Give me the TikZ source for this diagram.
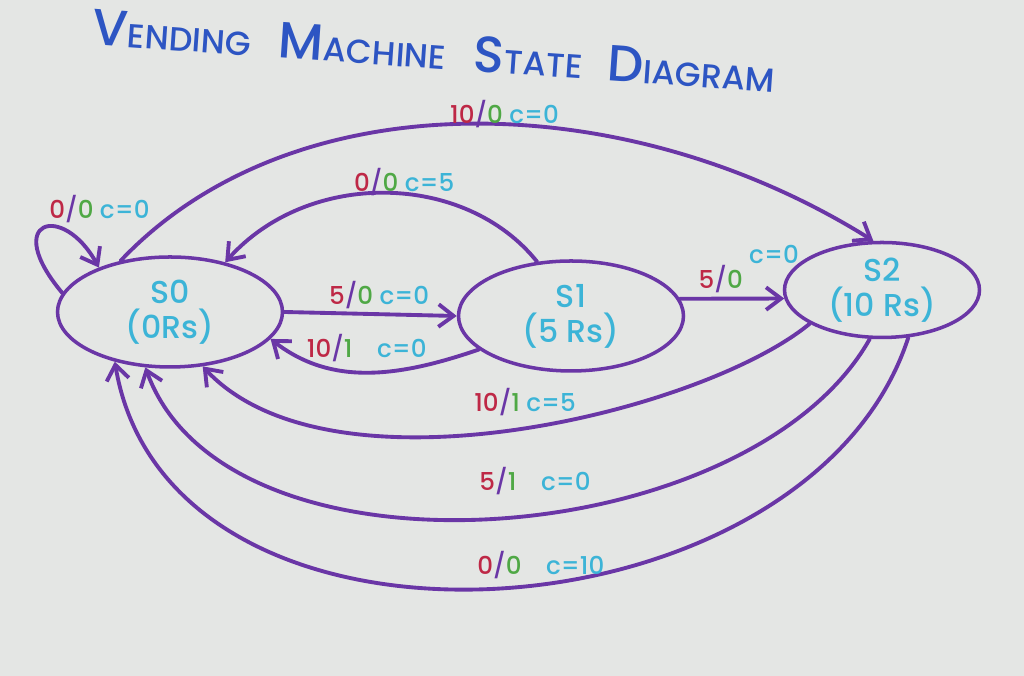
\documentclass[tikz,border=0pt]{standalone}
\usepackage{fontspec}
\setmainfont{Poppins Medium}
\usepackage{xcolor}
\usepackage{tikz}
\usetikzlibrary{shapes.geometric, arrows.meta, positioning}
\definecolor{paper}{HTML}{E4E6E4}
\definecolor{markerpurple}{HTML}{6A36A6}
\definecolor{markerred}{HTML}{BE2846}
\definecolor{markergreen}{HTML}{4FA845}
\definecolor{markercyan}{HTML}{3CB4D7}
\definecolor{markerblue}{HTML}{2D55C3}

\newcommand{\trans}[4][\ ]{\textcolor{markerred}{#2}\textcolor{markerpurple}{/}\textcolor{markergreen}{#3}#1\textcolor{markercyan}{c=#4}}
\newcommand{\capword}[2]{{\fontsize{29}{32}\selectfont #1}{\fontsize{19}{21}\selectfont #2}}

\begin{document}
\begin{tikzpicture}[
    state/.style={ellipse, draw=markerpurple, line width=2pt, minimum width=4.5cm,
                  minimum height=2.2cm, inner sep=0pt, text=markercyan,
                  font=\fontsize{18}{20}\selectfont, align=center},
    title/.style={text=markerblue, inner sep=0pt},
    lbl/.style={font=\fontsize{14}{16}\selectfont, inner sep=2pt},
    arrow/.style={-{Straight Barb[length=3mm, width=4.5mm]}, draw=markerpurple,
                  line width=2.2pt, line cap=round}
]

% Paper
\path[use as bounding box, fill=paper] (0,0) rectangle (20.48,13.52);

% Title
\node[title, rotate=-4] at (8.68,12.5) (title)
    {\capword{V}{ENDING}\hspace{0.55cm}\capword{M}{ACHINE}\hspace{0.55cm}\capword{S}{TATE}\hspace{0.5cm}\capword{D}{IAGRAM}};

% States
\node[state] at (3.40,7.28) (s0) {S0\\(0Rs)};
\node[state] at (11.42,7.20) (s1) {S1\\(5 Rs)};
\node[state, minimum width=3.9cm, minimum height=1.9cm] at (17.64,7.72) (s2) {S2\\(10 Rs)};

% Self loop on S0
\draw[arrow] (s0.170) .. controls (0.02,9.12) and (1.25,9.49) ..
    node[lbl, above right, pos=0.5] {\trans{0}{0}{0}} (s0.148);

% S0 to S1 and back
\draw[arrow] (s0.east) -- node[lbl, above, pos=0.55] {\trans{5}{0}{0}} (s1.west);
\draw[arrow] (s1.200) .. controls (7.95,5.97) and (6.62,5.80) ..
    node[lbl, above, pos=0.5, yshift=3pt] {\trans[\quad]{10}{1}{0}} (s0.345);
\draw[arrow] (s1.122) .. controls (9.30,10.09) and (6.17,10.14) ..
    node[lbl, above, pos=0.446, yshift=-4pt] {\trans{0}{0}{5}} (s0.42);

% S1 to S2
\draw[arrow] (s1.9) -- node[lbl, above, pos=0.66]
    {\textcolor{markerred}{5}\textcolor{markerpurple}{/}\textcolor{markergreen}{0}\ \raisebox{0.5cm}{\textcolor{markercyan}{c=0}}} (s2.185);

% S0 to S2
\draw[arrow] (s0.134) .. controls (5.85,11.94) and (12.47,11.83) ..
    node[lbl, above, pos=0.545, yshift=-5pt] {\trans{10}{0}{0}} (s2.100);

% S2 back to S0
\draw[arrow] (s2.205) .. controls (14.09,5.30) and (6.62,3.44) ..
    node[lbl, above, pos=0.486, yshift=4pt] {\trans{10}{1}{5}} (s0.301);
\draw[arrow] (s2.256) .. controls (14.98,2.45) and (4.54,1.65) ..
    node[lbl, above, pos=0.455, yshift=8pt] {\trans[\quad]{5}{1}{0}} (s0.246);
\draw[arrow] (s2.299) .. controls (16.17,0.61) and (3.39,-0.28) ..
    node[lbl, above, pos=0.457] {\trans[\quad]{0}{0}{10}} (s0.222);

\end{tikzpicture}
\end{document}
